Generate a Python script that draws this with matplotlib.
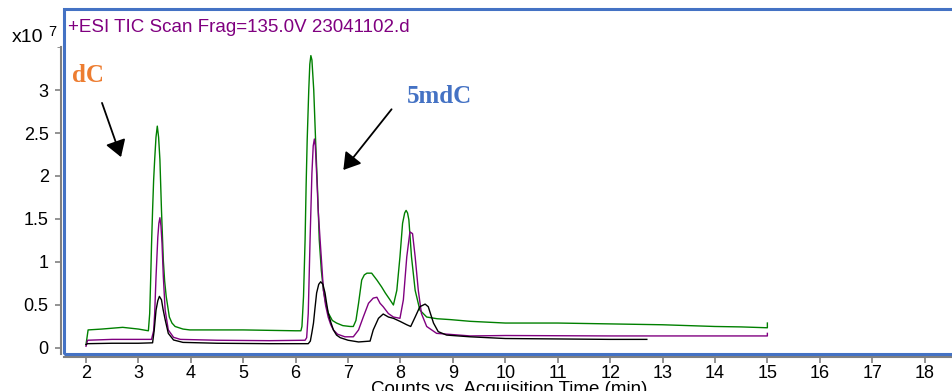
import numpy as np
import matplotlib.pyplot as plt
from matplotlib.patches import Rectangle

plt.rcParams['font.family'] = ['Liberation Sans', 'DejaVu Sans']

# TIC traces, time in min, counts in units of 1e7
green_t = [2.00, 2.04, 2.30, 2.70, 3.00, 3.19, 3.215, 3.235, 3.25, 3.27, 3.29, 3.31, 3.335,
           3.36, 3.385, 3.41, 3.44, 3.475, 3.50, 3.53, 3.59, 3.64, 3.70, 3.85, 3.98, 4.50,
           5.00, 5.50, 6.00, 6.10, 6.12, 6.15, 6.18, 6.20, 6.22, 6.25, 6.27, 6.29, 6.31,
           6.345, 6.38, 6.42, 6.45, 6.49, 6.53, 6.58, 6.62, 6.70, 6.78, 6.90, 7.04, 7.10,
           7.15, 7.20, 7.26, 7.31, 7.36, 7.45, 7.55, 7.64, 7.71, 7.80, 7.865, 7.93, 7.99,
           8.04, 8.08, 8.107, 8.135, 8.16, 8.21, 8.28, 8.37, 8.50, 8.70, 8.95, 9.33, 10.0,
           11.0, 12.0, 13.0, 14.0, 14.5, 15.0, 15.0]
green_v = [0.04, 0.21, 0.22, 0.24, 0.22, 0.20, 0.40, 0.83, 1.20, 1.60, 1.95, 2.19, 2.45,
           2.58, 2.45, 2.19, 1.60, 1.02, 0.78, 0.60, 0.36, 0.29, 0.25, 0.22, 0.21, 0.21,
           0.21, 0.205, 0.20, 0.20, 0.25, 0.60, 1.26, 1.90, 2.42, 3.00, 3.30, 3.40, 3.35,
           3.00, 2.42, 1.80, 1.26, 0.90, 0.67, 0.50, 0.41, 0.32, 0.29, 0.26, 0.25, 0.25,
           0.32, 0.52, 0.79, 0.85, 0.87, 0.87, 0.79, 0.71, 0.64, 0.56, 0.50, 0.67, 1.06,
           1.45, 1.57, 1.60, 1.57, 1.49, 1.06, 0.67, 0.44, 0.36, 0.34, 0.33, 0.31, 0.29,
           0.29, 0.28, 0.27, 0.25, 0.245, 0.235, 0.29]

purple_t = [2.00, 2.03, 2.50, 3.00, 3.25, 3.29, 3.31, 3.336, 3.37, 3.39, 3.41, 3.43, 3.45,
            3.475, 3.51, 3.57, 3.67, 3.80, 4.50, 5.50, 6.18, 6.21, 6.24, 6.275, 6.31, 6.335,
            6.357, 6.375, 6.40, 6.43, 6.466, 6.50, 6.53, 6.57, 6.62, 6.67, 6.72, 6.80, 6.94,
            7.10, 7.20, 7.29, 7.39, 7.48, 7.55, 7.61, 7.67, 7.77, 7.865, 7.99, 8.055, 8.12,
            8.18, 8.23, 8.28, 8.34, 8.40, 8.50, 8.69, 9.33, 10.0, 12.0, 14.0, 15.0, 15.0]
purple_v = [0.02, 0.09, 0.10, 0.10, 0.10, 0.20, 0.40, 0.83, 1.29, 1.45, 1.515, 1.42, 1.22,
            0.83, 0.44, 0.21, 0.124, 0.10, 0.09, 0.085, 0.09, 0.12, 0.40, 1.26, 2.03, 2.35,
            2.43, 2.35, 2.03, 1.60, 1.26, 0.95, 0.67, 0.50, 0.36, 0.27, 0.21, 0.16, 0.13,
            0.13, 0.21, 0.36, 0.52, 0.58, 0.59, 0.52, 0.48, 0.40, 0.36, 0.345, 0.56, 1.06,
            1.35, 1.33, 1.06, 0.67, 0.40, 0.25, 0.17, 0.14, 0.145, 0.14, 0.14, 0.14, 0.17]

black_t = [2.00, 2.03, 2.50, 3.00, 3.27, 3.30, 3.336, 3.37, 3.40, 3.44, 3.47, 3.51, 3.57,
           3.67, 3.85, 4.50, 5.50, 6.24, 6.28, 6.31, 6.34, 6.37, 6.40, 6.44, 6.478, 6.52,
           6.56, 6.59, 6.62, 6.67, 6.72, 6.78, 6.85, 7.00, 7.20, 7.42, 7.48, 7.58, 7.67,
           7.77, 7.865, 7.99, 8.12, 8.195, 8.28, 8.37, 8.47, 8.53, 8.63, 8.72, 8.88, 9.33,
           10.0, 11.0, 12.0, 12.7]
black_v = [0.04, 0.05, 0.055, 0.055, 0.06, 0.20, 0.44, 0.55, 0.60, 0.56, 0.45, 0.33, 0.17,
           0.093, 0.065, 0.055, 0.05, 0.05, 0.08, 0.18, 0.29, 0.47, 0.64, 0.74, 0.77, 0.74,
           0.64, 0.52, 0.41, 0.30, 0.21, 0.15, 0.12, 0.09, 0.07, 0.08, 0.21, 0.345, 0.395,
           0.36, 0.345, 0.31, 0.27, 0.25, 0.36, 0.48, 0.51, 0.48, 0.29, 0.19, 0.15, 0.13,
           0.11, 0.105, 0.10, 0.10]

x_ticks = list(range(2, 19))
y_ticks = [0, 0.5, 1, 1.5, 2, 2.5, 3]
y_labels = ['0', '0.5', '1', '1.5', '2', '2.5', '3']

frame_blue = '#4472C4'
axis_grey = '#808080'

fig = plt.figure(figsize=(9.53, 3.91), dpi=100)
ax = fig.add_axes([64 / 953, 1 - 354 / 391, 891 / 953, 345 / 391])

ax.plot(green_t, green_v, color='#008000', lw=1.0)
ax.plot(purple_t, purple_v, color='#800080', lw=1.0)
ax.plot(black_t, black_v, color='black', lw=1.0)

ax.set_xlim(1.58, 18.58)
ax.set_ylim(-0.07, 3.942)

# blue frame around plot area, grey axis lines just outside it
for s in ['top', 'right']:
    ax.spines[s].set_visible(False)
ax.add_patch(Rectangle((0, 0), 1, 1, transform=ax.transAxes, fill=False,
                       ec=frame_blue, lw=2.2, clip_on=False, zorder=5))
ax.spines['left'].set_position(('outward', 2))
ax.spines['bottom'].set_position(('outward', 2))
ax.spines['left'].set_color(axis_grey)
ax.spines['bottom'].set_color(axis_grey)
ax.spines['left'].set_linewidth(1.5)
ax.spines['bottom'].set_linewidth(1.5)
ax.spines['left'].set_bounds(-0.07, 3.5)

ax.set_xticks(x_ticks)
ax.set_yticks(y_ticks)
ax.set_yticklabels(y_labels)
ax.set_yticks([3.5], minor=True)
ax.tick_params(axis='both', labelsize=13, color=axis_grey, length=4, width=1.2)
ax.tick_params(axis='y', pad=5)
ax.tick_params(axis='x', pad=2)
ax.tick_params(axis='y', which='minor', length=3, color=axis_grey)

ax.set_xlabel('Counts vs. Acquisition Time (min)', fontsize=13.5, labelpad=-1)

ax.text(1.656, 3.674, '+ESI TIC Scan Frag=135.0V 23041102.d', color='#800080',
        fontsize=13.5, va='baseline')
fig.text(12 / 953, 1 - 42 / 391, 'x10', fontsize=14, va='baseline')
fig.text(48 / 953, 1 - 36 / 391, '7', fontsize=10.5, va='baseline')

ax.text(1.733, 3.093, 'dC', color='#ED7D31', fontsize=18, fontweight='bold',
        family='Liberation Serif', va='baseline')
ax.text(8.126, 2.849, '5mdC', color=frame_blue, fontsize=18, fontweight='bold',
        family='Liberation Serif', va='baseline')

arrow = dict(arrowstyle='-|>,head_length=0.4,head_width=0.25', mutation_scale=25,
             lw=1.3, color='black', shrinkA=0, shrinkB=0)
ax.annotate('', xy=(2.668, 2.22), xytext=(2.305, 2.85), arrowprops=arrow)
ax.annotate('', xy=(6.91, 2.07), xytext=(7.83, 2.776), arrowprops=arrow)

fig.savefig('out.png', dpi=100)
